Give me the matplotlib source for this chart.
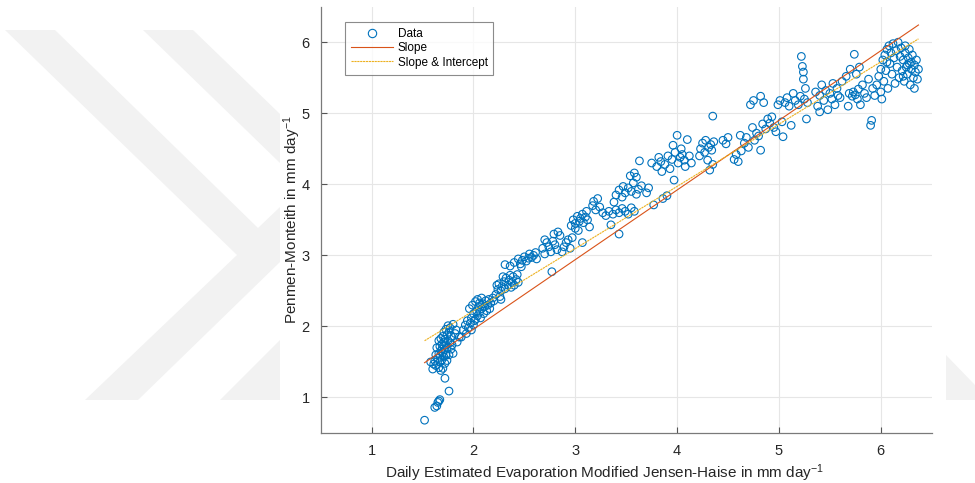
import matplotlib
matplotlib.use("Agg")
import matplotlib.pyplot as plt
from matplotlib.patches import Polygon
from matplotlib.lines import Line2D

plt.rcParams['font.family'] = ['Liberation Sans', 'DejaVu Sans']
plt.rcParams['mathtext.default'] = 'regular'

# ---------------- data ----------------
jh_x = [
    1.52, 1.62, 1.64, 1.66, 1.67, 1.65, 1.76, 1.72,
    1.60, 1.63, 1.66, 1.68, 1.70, 1.72, 1.58, 1.62, 1.65, 1.67, 1.69, 1.71, 1.74, 1.76,
    1.63, 1.66, 1.68, 1.70, 1.72, 1.74, 1.78, 1.80, 1.64, 1.67, 1.69, 1.71, 1.73, 1.75,
    1.77, 1.66, 1.68, 1.70, 1.72, 1.74, 1.76, 1.78, 1.71, 1.73, 1.75, 1.77, 1.80, 1.82,
    1.84, 1.86, 1.69, 1.61, 1.79, 1.83, 1.67, 1.73,
    1.88, 1.90, 1.92, 1.94, 1.95, 1.97, 1.98, 2.00, 2.00, 2.02, 2.03, 2.04, 2.05, 2.06,
    2.07, 2.08, 2.09, 2.10, 2.11, 2.12, 2.13, 2.14, 2.15, 1.96, 1.99, 2.02, 2.04, 2.06,
    2.17, 2.19, 2.16, 1.93, 1.98, 2.01, 2.08, 2.20, 2.27,
    2.22, 2.24, 2.25, 2.27, 2.28, 2.30, 2.31, 2.32, 2.34, 2.35, 2.36, 2.38, 2.39, 2.40,
    2.42, 2.43, 2.26, 2.29, 2.37, 2.44, 2.23,
    2.31, 2.36, 2.40, 2.44, 2.46, 2.48, 2.50, 2.52, 2.54, 2.55, 2.57, 2.59, 2.61, 2.62, 2.47,
    2.68, 2.70, 2.72, 2.74, 2.76, 2.77, 2.78, 2.80, 2.79, 2.83, 2.85, 2.87, 2.89, 2.91,
    2.93, 2.95, 2.97, 2.70, 2.82,
    2.96, 2.98, 3.00, 3.02, 3.04, 3.05, 3.07, 3.08, 3.10, 3.12, 3.07, 3.14, 3.17, 3.18,
    3.20, 3.22, 3.24, 3.00, 3.11, 3.03,
    3.27, 3.30, 3.33, 3.35, 3.37, 3.40, 3.43, 3.43, 3.46, 3.49, 3.52, 3.55, 3.58, 3.40,
    3.43, 3.46, 3.49, 3.52, 3.55, 3.57, 3.60, 3.62, 3.54, 3.58, 3.60, 3.63, 3.65, 3.38, 3.47,
    3.70, 3.72, 3.77, 3.80, 3.82, 3.84, 3.86, 3.88, 3.90, 3.91, 3.93, 3.95, 3.97, 3.98,
    4.00, 4.01, 4.03, 4.05, 4.07, 4.08, 4.10, 4.12, 4.14, 3.75, 3.85, 3.96, 4.04,
    4.23, 4.25, 4.27, 4.28, 4.30, 4.31, 4.32, 4.33, 4.34, 4.35, 4.35, 4.36, 4.45, 4.48,
    4.50, 4.56, 4.58, 4.60, 4.62, 4.63, 4.22,
    4.66, 4.68, 4.70, 4.72, 4.74, 4.75, 4.76, 4.78, 4.80, 4.82, 4.82, 4.84, 4.85, 4.87,
    4.89, 4.91, 4.93, 4.95, 4.97, 4.99, 5.01, 5.03, 5.04,
    5.06, 5.08, 5.10, 5.12, 5.14, 5.16, 5.19, 5.21, 5.22, 5.23, 5.24, 5.25, 5.26, 5.27,
    5.28, 5.24,
    5.38, 5.40, 5.42, 5.44, 5.46, 5.48, 5.50, 5.52, 5.53, 5.55, 5.57, 5.58, 5.60, 5.62,
    5.40, 5.36,
    5.66, 5.68, 5.69, 5.70, 5.72, 5.73, 5.74, 5.75, 5.76, 5.77, 5.78, 5.79, 5.80, 5.82,
    5.84, 5.86, 5.88, 5.90, 5.91, 5.92, 5.94,
    5.96, 5.98, 6.00, 6.01, 6.02, 6.03, 6.04, 6.05, 6.06, 6.07, 6.08, 6.09, 6.10, 6.11,
    6.12, 6.13, 6.14, 6.15, 6.16, 6.17, 6.18, 6.19, 6.00, 6.06,
    6.20, 6.21, 6.22, 6.23, 6.24, 6.25, 6.26, 6.27, 6.28, 6.29, 6.30, 6.31, 6.32, 6.33,
    6.34, 6.35, 6.36, 6.37, 6.28, 6.26, 6.30, 6.24, 6.33, 6.22,
]
pm_y = [
    0.68, 0.86, 0.88, 0.95, 0.97, 0.93, 1.09, 1.27,
    1.40, 1.45, 1.42, 1.38, 1.41, 1.48, 1.50, 1.52, 1.55, 1.50, 1.53, 1.57, 1.52, 1.60,
    1.60, 1.62, 1.65, 1.63, 1.67, 1.70, 1.68, 1.62, 1.70, 1.72, 1.75, 1.78, 1.74, 1.80,
    1.77, 1.80, 1.83, 1.86, 1.82, 1.88, 1.92, 1.86, 1.92, 1.96, 2.01, 1.98, 2.03, 1.90,
    1.78, 1.85, 1.68, 1.47, 1.74, 1.95, 1.58, 1.60,
    1.85, 1.95, 2.02, 2.08, 1.98, 2.05, 2.12, 2.02, 2.18, 2.10, 2.22, 2.15, 2.28, 2.20,
    2.12, 2.25, 2.32, 2.18, 2.28, 2.36, 2.22, 2.30, 2.38, 2.25, 2.30, 2.35, 2.38, 2.33,
    2.33, 2.40, 2.25, 1.90, 1.95, 2.08, 2.40, 2.36, 2.38,
    2.45, 2.52, 2.60, 2.50, 2.56, 2.63, 2.53, 2.68, 2.58, 2.65, 2.72, 2.62, 2.70, 2.58,
    2.66, 2.73, 2.42, 2.70, 2.55, 2.62, 2.58,
    2.87, 2.85, 2.90, 2.95, 2.88, 2.93, 2.98, 2.92, 2.96, 3.02, 2.97, 3.00, 3.04, 2.95, 2.84,
    3.10, 3.02, 3.18, 3.12, 3.05, 2.77, 3.20, 3.15, 3.30, 3.33, 3.28, 3.05, 3.12, 3.18,
    3.22, 3.10, 3.25, 3.22, 3.08,
    3.42, 3.50, 3.45, 3.55, 3.48, 3.52, 3.58, 3.46, 3.54, 3.50, 3.18, 3.40, 3.70, 3.76,
    3.64, 3.80, 3.68, 3.38, 3.62, 3.35,
    3.60, 3.56, 3.62, 3.43, 3.58, 3.64, 3.30, 3.60, 3.66, 3.62, 3.58, 3.67, 3.62, 3.85,
    3.92, 3.82, 3.88, 3.95, 3.90, 4.02, 3.86, 3.93, 4.12, 4.16, 4.10, 4.33, 3.98, 3.75, 3.97,
    3.88, 3.95, 3.71, 4.25, 4.38, 4.32, 3.80, 4.28, 3.84, 4.40, 4.22, 4.35, 4.06, 4.45,
    4.69, 4.30, 4.38, 4.42, 4.34, 4.25, 4.63, 4.40, 4.30, 4.30, 4.18, 4.55, 4.50,
    4.50, 4.58, 4.45, 4.62, 4.34, 4.52, 4.20, 4.56, 4.48, 4.96, 4.28, 4.60, 4.62, 4.57,
    4.66, 4.35, 4.42, 4.32, 4.69, 4.47, 4.40,
    4.58, 4.66, 4.52, 5.12, 4.80, 5.18, 4.62, 4.72, 4.68, 4.48, 5.24, 4.85, 5.15, 4.78,
    4.92, 4.86, 4.95, 4.80, 4.74, 5.12, 5.18, 4.88, 4.67,
    5.15, 5.22, 5.10, 4.83, 5.28, 5.18, 5.12, 5.24, 5.80, 5.66, 5.48, 5.20, 5.35, 4.92,
    5.15, 5.58,
    5.10, 5.25, 5.40, 5.18, 5.32, 5.05, 5.28, 5.20, 5.42, 5.12, 5.35, 5.25, 5.22, 5.45,
    5.02, 5.30,
    5.52, 5.10, 5.28, 5.62, 5.24, 5.30, 5.83, 5.26, 5.55, 5.20, 5.34, 5.65, 5.12, 5.40,
    5.28, 5.22, 5.48, 4.83, 4.90, 5.35, 5.25,
    5.40, 5.52, 5.30, 5.20, 5.75, 5.45, 5.82, 5.60, 5.90, 5.35, 5.95, 5.70, 5.85, 5.55,
    5.98, 5.78, 5.42, 5.88, 5.65, 6.00, 5.50, 5.80, 5.62, 5.72,
    5.92, 5.60, 5.75, 5.45, 5.85, 5.65, 5.55, 5.78, 5.70, 5.40, 5.62, 5.82, 5.50, 5.68,
    5.58, 5.75, 5.48, 5.62, 5.90, 5.68, 5.72, 5.95, 5.35, 5.52,
]

# fitted coefficients
slope_only = 0.98          # y = b * x
fit_slope = 0.876          # y = a * x + c
fit_intercept = 0.467

x_ticks = [1, 2, 3, 4, 5, 6]
y_ticks = [1, 2, 3, 4, 5, 6]
legend_labels = ['Data', 'Slope', 'Slope & Intercept']

# ---------------- figure ----------------
W, H = 975, 483
fig = plt.figure(figsize=(W / 100, H / 100), dpi=100)

# faint background watermark (pixel coordinates of the picture)
wm_color = '#f2f2f2'
wm_shapes = [
    [(5, 30), (55, 30), (258, 228), (280, 207), (280, 262), (138, 400), (85, 400), (237, 255)],
    [(143, 30), (193, 30), (280, 114), (280, 163)],
    [(220, 400), (280, 340), (280, 400)],
    [(946, 355), (975, 385), (975, 400), (946, 400)],
]
for shp in wm_shapes:
    pts = [(px / W, 1 - py / H) for px, py in shp]
    fig.patches.append(Polygon(pts, closed=True, transform=fig.transFigure,
                               facecolor=wm_color, edgecolor='none', zorder=0))

ax = fig.add_axes([320.7 / W, 1 - 433 / H, (931.7 - 320.7) / W, (433 - 6.7) / H])
ax.set_facecolor('white')

ax.scatter(jh_x, pm_y, s=30, facecolors='none', edgecolors='#0072BD',
           linewidths=0.8, zorder=3)

xmin, xmax = min(jh_x), max(jh_x)
ax.plot([xmin, xmax], [slope_only * xmin, slope_only * xmax],
        color='#D95319', lw=0.8, zorder=4)
ax.plot([xmin, xmax], [fit_slope * xmin + fit_intercept, fit_slope * xmax + fit_intercept],
        color='#EDB120', lw=0.8, ls=(0, (2, 0.6)), zorder=4)

ax.set_xlim(0.5, 6.5)
ax.set_ylim(0.5, 6.5)
ax.set_xticks(x_ticks)
ax.set_yticks(y_ticks)
ax.grid(True, color='#e6e6e6', lw=0.8)
ax.set_axisbelow(True)
for sp in ['top', 'right']:
    ax.spines[sp].set_visible(False)
for sp in ['left', 'bottom']:
    ax.spines[sp].set_color('#7a7a7a')
    ax.spines[sp].set_linewidth(0.9)
ax.tick_params(direction='in', length=4, width=0.8, color='#555555',
               labelsize=10.5, labelcolor='#262626', pad=8)

ax.set_xlabel('Daily Estimated Evaporation Modified Jensen-Haise in mm day$^{-1}$',
              fontsize=11, color='#262626')
ax.set_ylabel('Penmen-Monteith in mm day$^{-1}$', fontsize=11, color='#262626')
ax.xaxis.set_label_coords(0.465, -0.068)
ax.yaxis.set_label_coords(-0.029, 0.5)

handles = [
    Line2D([], [], marker='o', ls='none', markerfacecolor='none',
           markeredgecolor='#0072BD', markersize=6, markeredgewidth=0.8),
    Line2D([], [], color='#D95319', lw=0.8),
    Line2D([], [], color='#EDB120', lw=0.8, ls=(0, (2, 0.6))),
]
leg = ax.legend(handles, legend_labels, loc='upper left',
                bbox_to_anchor=(345 / W, 1 - 22 / H), bbox_transform=fig.transFigure,
                fontsize=8.5, frameon=True, fancybox=False, handlelength=3.6,
                borderpad=0.5, labelspacing=0.2, handletextpad=0.35, borderaxespad=0)
leg.get_frame().set_edgecolor('#6e6e6e')
leg.get_frame().set_linewidth(0.8)

fig.savefig('out.png', dpi=100)
